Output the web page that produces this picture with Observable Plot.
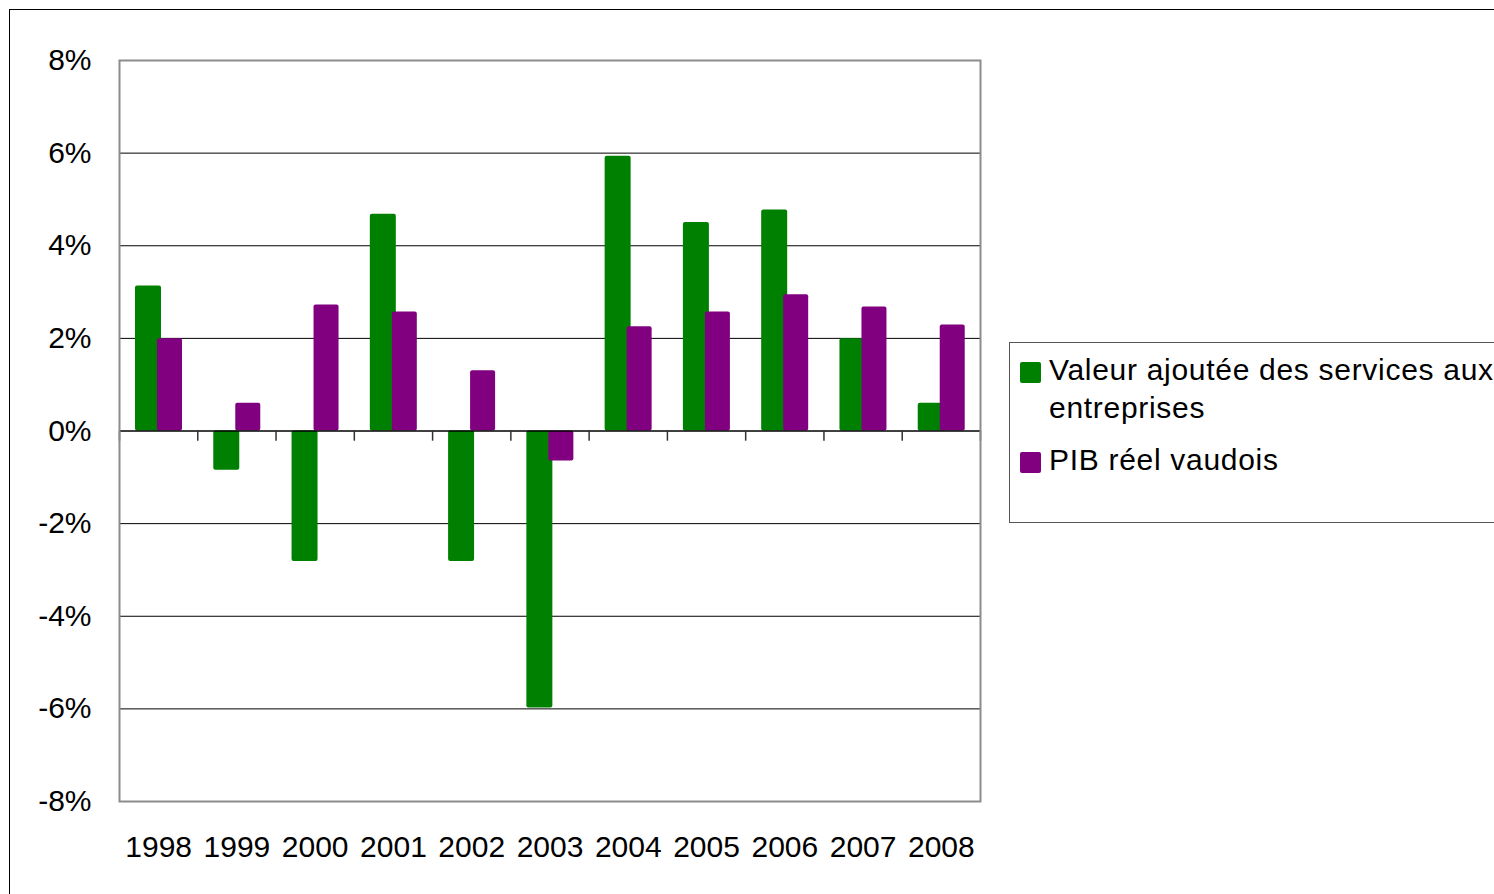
<!DOCTYPE html>
<html>
<head>
<meta charset="utf-8">
<script src="https://cdn.jsdelivr.net/npm/d3@7"></script>
<script src="https://cdn.jsdelivr.net/npm/@observablehq/plot@0.6"></script>
<style>
  html, body { margin: 0; padding: 0; background: #fff; overflow: hidden; width: 1494px; height: 894px; }
  #wrap { position: relative; width: 1494px; height: 894px; font-family: "Liberation Sans", Arial, sans-serif; }
  #outer { position: absolute; left: 9px; top: 9px; width: 1600px; height: 1000px; border: 1px solid #000; box-sizing: border-box; }
  #chart { position: absolute; left: 0; top: 0; }
  #legend { position: absolute; left: 1009px; top: 342px; width: 600px; height: 181px; border: 1px solid #555; box-sizing: border-box; background: #fff; }
  .item { position: absolute; left: 39px; font-size: 30px; line-height: 38px; color: #000; white-space: nowrap; letter-spacing: 0.7px; }
  .sw { position: absolute; left: 10px; width: 21px; height: 21px; border-radius: 2px; }
</style>
</head>
<body>
<div id="wrap">
  <div id="outer"></div>
  <div id="chart"></div>
  <div id="legend"></div>
</div>
<script>
const years = ["1998","1999","2000","2001","2002","2003","2004","2005","2006","2007","2008"];
const valeurAjoutee = [3.13, -0.85, -2.82, 4.68, -2.82, -5.98, 5.93, 4.5, 4.77, 1.99, 0.6];
const pibReel = [1.99, 0.6, 2.72, 2.57, 1.3, -0.65, 2.25, 2.57, 2.94, 2.68, 2.29];
const seriesNames = ["Valeur ajoutée des services aux entreprises", "PIB réel vaudois"];
const seriesColors = ["#008000", "#800080"];
const yTicks = [-8, -6, -4, -2, 0, 2, 4, 6, 8];
const gridTicks = [-6, -4, -2, 2, 4, 6];

const dataVA = years.map((y, i) => ({year: y, v: valeurAjoutee[i]}));
const dataPIB = years.map((y, i) => ({year: y, v: pibReel[i]}));

const W = 1494, H = 894;
const mL = 119, mR = 514, mT = 60, mB = 93;
const bw = (W - mL - mR) / years.length;

const chart = Plot.plot({
  width: W, height: H,
  marginLeft: mL, marginRight: mR, marginTop: mT, marginBottom: mB,
  style: {fontFamily: "'Liberation Sans', Arial, sans-serif", fontSize: "30px", color: "#000", background: "transparent", overflow: "visible"},
  x: {domain: years, padding: 0, round: false, label: null},
  y: {domain: [-8, 8], label: null},
  marks: [
    Plot.ruleY(gridTicks, {stroke: "#000", strokeWidth: 1}),
    Plot.barY(dataVA, {x: "year", y: "v", fill: seriesColors[0], insetLeft: 16, insetRight: bw - 42, rx: 2}),
    Plot.barY(dataPIB, {x: "year", y: "v", fill: seriesColors[1], insetLeft: 38, insetRight: bw - 63, rx: 2}),
    Plot.ruleY([0], {stroke: "#000", strokeWidth: 1.5}),
    Plot.ruleX(years, {x: d => d, dx: -bw / 2, y1: 0, y2: -0.22, stroke: "#333", strokeWidth: 1.5}),
    Plot.ruleX(years.slice(-1), {x: d => d, dx: bw / 2, y1: 0, y2: -0.22, stroke: "#333", strokeWidth: 1.5}),
    Plot.frame({stroke: "#8c8c8c", strokeWidth: 2}),
    Plot.axisY(yTicks, {tickSize: 0, tickPadding: 28, tickFormat: d => `${d}%`, fontSize: 30}),
    Plot.axisX({tickSize: 0, tickPadding: 34, fontSize: 30})
  ]
});
document.getElementById("chart").appendChild(chart);

const legend = document.getElementById("legend");
const items = [
  {swTop: 19, textTop: 8, color: seriesColors[0]},
  {swTop: 109, textTop: 98, color: seriesColors[1]}
];
items.forEach((it, i) => {
  const sw = document.createElement("div");
  sw.className = "sw";
  sw.style.top = it.swTop + "px";
  sw.style.background = it.color;
  legend.appendChild(sw);
  const t = document.createElement("div");
  t.className = "item";
  t.style.top = it.textTop + "px";
  t.innerHTML = i === 0 ? "Valeur ajoutée des services aux<br>entreprises" : seriesNames[1];
  legend.appendChild(t);
});
</script>
</body>
</html>
